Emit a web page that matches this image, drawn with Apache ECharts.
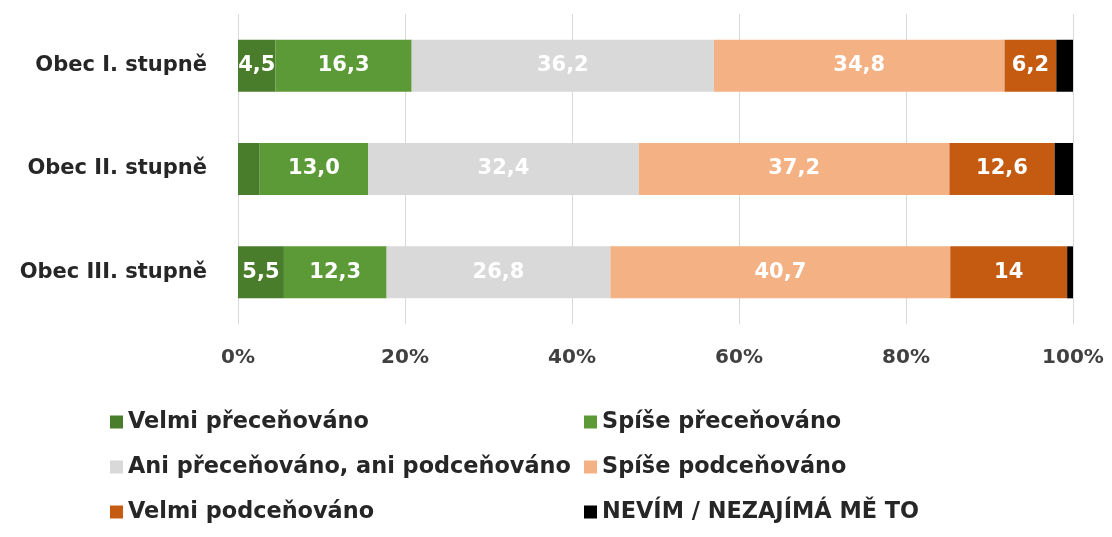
<!DOCTYPE html>
<html>
<head>
<meta charset="utf-8">
<script src="https://cdn.jsdelivr.net/npm/echarts@6/dist/echarts.min.js"></script>
<style>
  html, body { margin: 0; padding: 0; background: #fff; }
  #chart { width: 1112px; height: 537px; }
</style>
</head>
<body>
<div id="chart"></div>
<script>
// categories, top to bottom
const categories = ['Obec I. stupně', 'Obec II. stupně', 'Obec III. stupně'];
const seriesNames = [
  'Velmi přeceňováno',
  'Spíše přeceňováno',
  'Ani přeceňováno, ani podceňováno',
  'Spíše podceňováno',
  'Velmi podceňováno',
  'NEVÍM / NEZAJÍMÁ MĚ TO'
];
// values per series, same order as categories
const velmiPrecen = [4.5, 2.6, 5.5];
const spisePrecen = [16.3, 13.0, 12.3];
const aniAni = [36.2, 32.4, 26.8];
const spisePodcen = [34.8, 37.2, 40.7];
const velmiPodcen = [6.2, 12.6, 14];
const nevim = [2.0, 2.2, 0.7];
// printed labels (as in the source)
const velmiPrecenLabels = ['4,5', '', '5,5'];
const spisePrecenLabels = ['16,3', '13,0', '12,3'];
const aniAniLabels = ['36,2', '32,4', '26,8'];
const spisePodcenLabels = ['34,8', '37,2', '40,7'];
const velmiPodcenLabels = ['6,2', '12,6', '14'];
const nevimLabels = ['', '', ''];
const xTicks = [0, 20, 40, 60, 80, 100];

const colors = ['#4a7d2b', '#5b9a37', '#d9d9d9', '#f4b183', '#c55a11', '#000000'];
const allValues = [velmiPrecen, spisePrecen, aniAni, spisePodcen, velmiPodcen, nevim];
const allLabels = [velmiPrecenLabels, spisePrecenLabels, aniAniLabels, spisePodcenLabels, velmiPodcenLabels, nevimLabels];

const font = '"DejaVu Sans", sans-serif';

const chart = echarts.init(document.getElementById('chart'));

const series = seriesNames.map((name, i) => ({
  name: name,
  type: 'bar',
  stack: 'total',
  barWidth: 52,
  itemStyle: { color: colors[i] },
  label: {
    show: true,
    position: 'inside',
    color: '#ffffff',
    fontFamily: font,
    fontWeight: 'bold',
    fontSize: 21,
    formatter: p => allLabels[i][p.dataIndex]
  },
  emphasis: { disabled: true },
  data: allValues[i]
}));

chart.setOption({
  animation: false,
  color: colors,
  grid: { left: 238, right: 39, top: 14, bottom: 213, containLabel: false },
  xAxis: {
    type: 'value',
    min: 0,
    max: 100,
    interval: 20,
    axisLine: { show: false },
    axisTick: { show: false },
    splitLine: { show: true, lineStyle: { color: '#d9d9d9', width: 1 } },
    axisLabel: {
      margin: 24,
      color: '#404040',
      fontFamily: font,
      fontWeight: 'bold',
      fontSize: 20,
      formatter: v => xTicks.includes(v) ? v + '%' : ''
    }
  },
  yAxis: {
    type: 'category',
    data: categories,
    inverse: true,
    axisLine: { show: false },
    axisTick: { show: false },
    axisLabel: {
      margin: 31,
      color: '#262626',
      fontFamily: font,
      fontWeight: 'bold',
      fontSize: 21
    }
  },
  legend: [
    {
      left: 105,
      top: 406,
      orient: 'vertical',
      itemGap: 23,
      itemWidth: 13,
      itemHeight: 13,
      icon: 'rect',
      selectedMode: false,
      textStyle: { color: '#262626', fontFamily: font, fontWeight: 'bold', fontSize: 22.4 },
      data: [seriesNames[0], seriesNames[2], seriesNames[4]]
    },
    {
      left: 579,
      top: 406,
      orient: 'vertical',
      itemGap: 23,
      itemWidth: 13,
      itemHeight: 13,
      icon: 'rect',
      selectedMode: false,
      textStyle: { color: '#262626', fontFamily: font, fontWeight: 'bold', fontSize: 22.4 },
      data: [seriesNames[1], seriesNames[3], seriesNames[5]]
    }
  ],
  series: series
});
</script>
</body>
</html>
